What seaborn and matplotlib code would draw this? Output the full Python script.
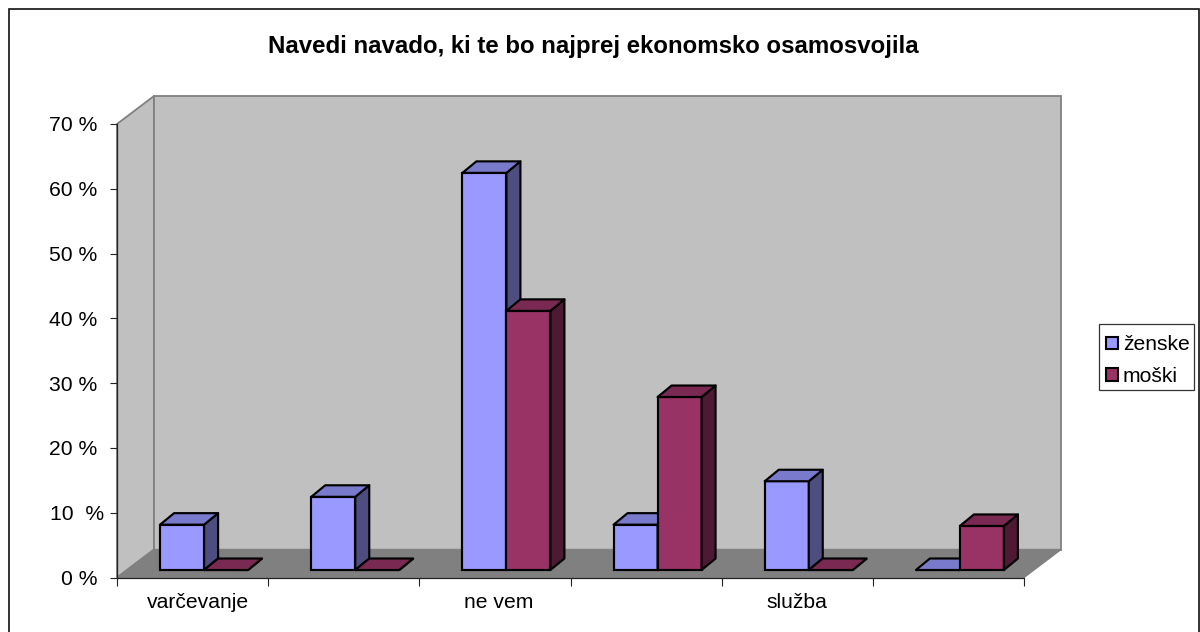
import matplotlib
matplotlib.use("Agg")
import matplotlib.pyplot as plt
import pandas as pd
import seaborn as sns
from matplotlib.patches import Polygon, Rectangle
from matplotlib.transforms import Affine2D, ScaledTranslation

categories = ["varčevanje", "kategorija 2", "ne vem", "kategorija 4", "služba", "kategorija 6"]
tick_labels = ["varčevanje", "", "ne vem", "", "služba", ""]
zenske = [7.0, 11.3, 61.3, 7.0, 13.7, 0.0]
moski = [0.0, 0.0, 40.0, 26.7, 0.0, 6.8]
series_names = ["ženske", "moški"]
y_ticks = [0, 10, 20, 30, 40, 50, 60, 70]
y_labels = ["0 %", "10  %", "20 %", "30 %", "40 %", "50 %", "60 %", "70 %"]
title = "Navedi navado, ki te bo najprej ekonomsko osamosvojila"

front_colors = {"ženske": "#9999FF", "moški": "#993366"}
top_colors = {"ženske": "#7A7ACC", "moški": "#7A2952"}
side_colors = {"ženske": "#4D4D80", "moški": "#4D1933"}

W, H = 1200, 632
sns.set_theme(style="white")
plt.rcParams["font.family"] = ["Liberation Sans", "DejaVu Sans"]
FS = 15.2
EDGE = 1.55

fig = plt.figure(figsize=(W / 100, H / 100), dpi=100, facecolor="white")
px = Affine2D().scale(1, -1).translate(0, H)


def add_poly(points, fc, ec, lw=1.0, zorder=1):
    fig.add_artist(Polygon(points, closed=True, facecolor=fc, edgecolor=ec,
                           linewidth=lw, transform=px, zorder=zorder))


def axes_rect(left, right, top, bottom):
    return [left / W, (H - bottom) / H, (right - left) / W, (bottom - top) / H]


def px_shift(dx):
    return ScaledTranslation(dx / 100, 0, fig.dpi_scale_trans)


# chart frame
fig.add_artist(Rectangle((9, 9), 1190, 640, facecolor="white", edgecolor="#111111",
                         linewidth=1.2, transform=px, zorder=0))

# walls and floor
L, R, T, B = 117, 1024, 124, 577.5
DX, DY = 37, 28
add_poly([(L, B), (L, T), (L + DX, T - DY), (L + DX, B - DY)], "#C0C0C0", "#808080", 1.3)
add_poly([(L + DX, T - DY), (R + DX, T - DY), (R + DX, B - DY), (L + DX, B - DY)], "#C0C0C0", "#808080", 1.3)
add_poly([(L, B), (L + DX, B - DY), (R + DX, B - DY), (R, B)], "#808080", "#808080", 1.0)

# axis plane
ax = fig.add_axes(axes_rect(L, R, T, B), facecolor="none", zorder=3)
ax.set_xlim(-0.5, 5.5)
ax.set_ylim(0, 70)
for s in ["top", "right"]:
    ax.spines[s].set_visible(False)
for s in ["left", "bottom"]:
    ax.spines[s].set_color("#222222")
    ax.spines[s].set_linewidth(0.9)
ax.set_yticks(y_ticks, y_labels, fontsize=FS, color="black")
ax.tick_params(axis="y", left=True, length=5, width=0.8, color="#222222", pad=9)
ax.set_xticks([i - 0.5 for i in range(len(categories) + 1)], [""] * (len(categories) + 1))
ax.tick_params(axis="x", which="major", bottom=True, length=6, width=0.8, color="#222222")
ax.set_xticks(range(len(categories)), tick_labels, minor=True, fontsize=FS, color="black")
ax.tick_params(axis="x", which="minor", bottom=False, length=0, pad=11.5)
for lab, dx in zip(ax.get_xticklabels(minor=True), [5.5, 4, 4, 4, 0, 0]):
    lab.set_transform(lab.get_transform() + px_shift(dx))
lab10 = ax.get_yticklabels()[1]
lab10.set_transform(lab10.get_transform() + px_shift(7))

# bar plane, set back from the axis plane
SX, SY = 11.5, 7.5
ax_b = fig.add_axes(axes_rect(L + SX, R + SX, T - SY, B - SY), facecolor="none", zorder=4)
df = pd.DataFrame({
    "kategorija": categories * 2,
    "spol": [series_names[0]] * len(categories) + [series_names[1]] * len(categories),
    "delež": zenske + moski,
})
sns.barplot(data=df, x="kategorija", y="delež", hue="spol", hue_order=series_names,
            order=categories, palette=front_colors, width=0.582, saturation=1,
            edgecolor="black", linewidth=EDGE, ax=ax_b, legend=False)
ax_b.set_xlim(-0.5, 5.5)
ax_b.set_ylim(0, 70)
ax_b.axis("off")

# bar depth faces built from each drawn bar
ux = (R - L) / 6
uy = (B - T) / 70
bdx, bdy = 14 / ux, 11.5 / uy
handles = []
for name, cont in zip(series_names, ax_b.containers):
    for bar in cont:
        x0, y0 = bar.get_x(), bar.get_y()
        w, h = bar.get_width(), bar.get_height()
        z = 5 + x0 * 2
        bar.set_zorder(z)
        bar.set_clip_on(False)
        ax_b.add_patch(Polygon([(x0 + w, y0), (x0 + w + bdx, y0 + bdy), (x0 + w + bdx, y0 + h + bdy), (x0 + w, y0 + h)],
                               facecolor=side_colors[name], edgecolor="black", linewidth=EDGE,
                               zorder=z, clip_on=False, joinstyle="round"))
        ax_b.add_patch(Polygon([(x0, y0 + h), (x0 + bdx, y0 + h + bdy), (x0 + w + bdx, y0 + h + bdy), (x0 + w, y0 + h)],
                               facecolor=top_colors[name], edgecolor="black", linewidth=EDGE,
                               zorder=z, clip_on=False, joinstyle="round"))
    handles.append(Rectangle((0, 0), 1, 1, facecolor=front_colors[name], edgecolor="black", linewidth=1.5))

fig.text(593 / W, 1 - 46 / H, title, ha="center", va="center", fontsize=17.27,
         fontweight="bold", color="black")

# legend box and entries
fig.add_artist(Rectangle((1098.5, 324), 95.5, 66, facecolor="white", edgecolor="#333333",
                         linewidth=0.9, transform=px, zorder=5))
leg = fig.legend(handles, series_names, loc="upper left",
                 bbox_to_anchor=(1098.5 / W, 1 - 328 / H), fontsize=FS, frameon=False,
                 handlelength=0.55, handleheight=0.55, labelcolor="black",
                 handletextpad=0.25, labelspacing=0.6, borderpad=0.35, borderaxespad=0)
leg.set_zorder(6)

fig.savefig("out.png", dpi=100)
